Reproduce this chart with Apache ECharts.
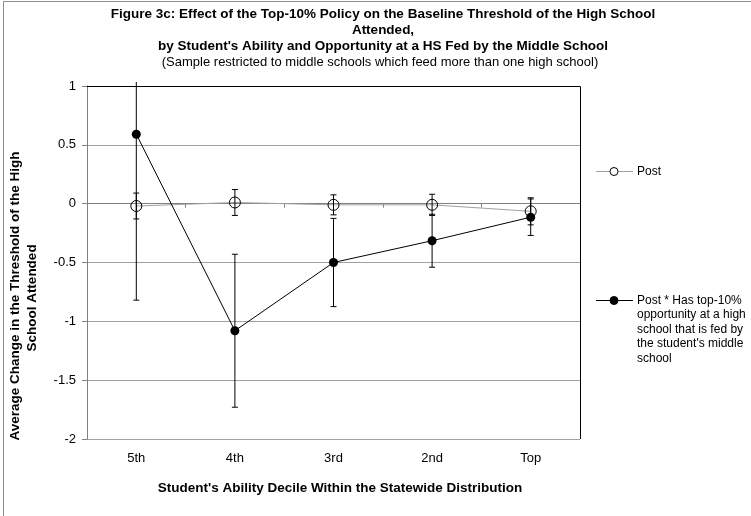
<!DOCTYPE html>
<html>
<head>
<meta charset="utf-8">
<script src="https://cdn.jsdelivr.net/npm/echarts@6/dist/echarts.min.js"></script>
<style>
  html, body { margin: 0; padding: 0; background: #fff; }
  #chart { width: 751px; height: 516px; }
</style>
</head>
<body>
<div id="chart"></div>
<script>
// Ability deciles on the x axis
const deciles = ['5th', '4th', '3rd', '2nd', 'Top'];

// "Post" coefficient and its error-bar half-width
const postValues = [-0.02, 0.01, -0.01, -0.01, -0.065];
const postError = [0.11, 0.11, 0.085, 0.09, 0.115];

// "Post * Has top-10% opportunity..." coefficient and its error-bar half-width
const oppValues = [0.59, -1.08, -0.50, -0.315, -0.115];
const oppError = [1.41, 0.65, 0.375, 0.225, 0.155];

// Value-axis ticks
const yMin = -2, yMax = 1, yStep = 0.5;

const FONT = '"Liberation Sans", Arial, sans-serif';
const chart = echarts.init(document.getElementById('chart'), null, { renderer: 'canvas' });

function errorData(values, errs) {
  return values.map((v, i) => [i, v - errs[i], v + errs[i]]);
}

// Vertical error bar with caps; the part beyond the axis range runs just past the plot edge
function errorBarRenderer(api) {
  const x = api.value(0);
  const lo = api.value(1), hi = api.value(2);
  const children = [];
  const capHalf = 3;
  const pLo = api.coord([x, Math.max(lo, yMin)]);
  const pHi = api.coord([x, Math.min(hi, yMax)]);
  const hiClipped = hi > yMax;
  const topY = hiClipped ? pHi[1] - 4 : pHi[1];
  const style = { stroke: '#000', lineWidth: 1 };
  children.push({ type: 'line', shape: { x1: pLo[0], y1: pLo[1], x2: pLo[0], y2: topY }, style });
  children.push({ type: 'line', shape: { x1: pLo[0] - capHalf, y1: pLo[1], x2: pLo[0] + capHalf, y2: pLo[1] }, style });
  if (!hiClipped) {
    children.push({ type: 'line', shape: { x1: pHi[0] - capHalf, y1: topY, x2: pHi[0] + capHalf, y2: topY }, style });
  }
  return { type: 'group', children };
}

const legendTextStyle = { font: '12px ' + FONT, fill: '#000' };
const titleFont = 'bold 13.5px ' + FONT;

const option = {
  animation: false,
  backgroundColor: '#fff',
  grid: { left: 87, right: 171, top: 86, bottom: 77, show: false },
  xAxis: {
    type: 'category',
    data: deciles,
    boundaryGap: true,
    axisLine: { show: true, lineStyle: { color: '#808080', width: 1 } },
    axisTick: { show: true, alignWithLabel: false, length: 4, lineStyle: { color: '#808080' } },
    axisLabel: { color: '#000', fontFamily: FONT, fontSize: 13, margin: 13 },
    splitLine: { show: false }
  },
  yAxis: {
    type: 'value',
    min: yMin, max: yMax, interval: yStep,
    axisLine: { show: true, lineStyle: { color: '#808080', width: 1 } },
    axisTick: { show: true, inside: false, length: 5, lineStyle: { color: '#808080' } },
    axisLabel: { color: '#000', fontFamily: FONT, fontSize: 13, margin: 11 },
    splitLine: { show: true, lineStyle: { color: '#a0a0a0', width: 1 } }
  },
  series: [
    {
      name: 'Post',
      type: 'line',
      data: postValues,
      z: 3,
      symbol: 'circle',
      symbolSize: 11,
      lineStyle: { color: '#a0a0a0', width: 1 },
      itemStyle: { color: 'rgba(255,255,255,0)', borderColor: '#000', borderWidth: 1 }
    },
    {
      name: 'Post err',
      type: 'custom',
      data: errorData(postValues, postError),
      renderItem: (p, api) => errorBarRenderer(api),
      clip: false,
      z: 4
    },
    {
      name: 'Post * Has top-10% opportunity at a high school that is fed by the student\'s middle school',
      type: 'line',
      data: oppValues,
      z: 6,
      symbol: 'circle',
      symbolSize: 9,
      lineStyle: { color: '#000', width: 1 },
      itemStyle: { color: '#000', borderColor: '#000', borderWidth: 0 }
    },
    {
      name: 'Opp err',
      type: 'custom',
      data: errorData(oppValues, oppError),
      renderItem: (p, api) => errorBarRenderer(api),
      clip: false,
      z: 5
    }
  ],
  graphic: [
    // outer chart border
    { type: 'rect', shape: { x: 3.5, y: 1.5, width: 800, height: 600 }, style: { fill: 'none', stroke: '#8c8c8c', lineWidth: 1 }, silent: true, z: 0 },
    // plot-area border top and right
    { type: 'polyline', shape: { points: [[87, 86.5], [580.5, 86.5], [580.5, 439]] }, style: { stroke: '#000', lineWidth: 1, fill: 'none' }, silent: true, z: 10 },
    // titles
    { type: 'text', x: 383, y: 14, style: { text: 'Figure 3c: Effect of the Top-10% Policy on the Baseline Threshold of the High School', font: titleFont, fill: '#000', align: 'center', verticalAlign: 'middle' } },
    { type: 'text', x: 383, y: 30, style: { text: 'Attended,', font: titleFont, fill: '#000', align: 'center', verticalAlign: 'middle' } },
    { type: 'text', x: 383, y: 46, style: { text: 'by Student\'s Ability and Opportunity at a HS Fed by the Middle School', font: titleFont, fill: '#000', align: 'center', verticalAlign: 'middle' } },
    { type: 'text', x: 380, y: 62, style: { text: '(Sample restricted to middle schools which feed more than one high school)', font: '13px ' + FONT, fill: '#000', align: 'center', verticalAlign: 'middle' } },
    // axis titles
    { type: 'text', x: 340, y: 488, style: { text: 'Student\'s Ability Decile Within the Statewide Distribution', font: titleFont, fill: '#000', align: 'center', verticalAlign: 'middle' } },
    { type: 'text', x: 15, y: 296, rotation: Math.PI / 2, style: { text: 'Average Change in the Threshold of the High', font: titleFont, fill: '#000', align: 'center', verticalAlign: 'middle' } },
    { type: 'text', x: 32, y: 298, rotation: Math.PI / 2, style: { text: 'School Attended', font: titleFont, fill: '#000', align: 'center', verticalAlign: 'middle' } },
    // legend: Post
    { type: 'line', shape: { x1: 596, y1: 171.5, x2: 633, y2: 171.5 }, style: { stroke: '#a0a0a0', lineWidth: 1 } },
    { type: 'circle', shape: { cx: 614, cy: 171.5, r: 4 }, style: { fill: '#fff', stroke: '#000', lineWidth: 1 } },
    { type: 'text', x: 637, y: 171.5, style: Object.assign({ text: 'Post', verticalAlign: 'middle' }, legendTextStyle) },
    // legend: Post * opportunity
    { type: 'line', shape: { x1: 596, y1: 300.5, x2: 633, y2: 300.5 }, style: { stroke: '#000', lineWidth: 1 } },
    { type: 'circle', shape: { cx: 614, cy: 300.5, r: 4 }, style: { fill: '#000', stroke: '#000', lineWidth: 1 } },
    { type: 'text', x: 637, y: 293, style: Object.assign({ text: 'Post * Has top-10%\nopportunity at a high\nschool that is fed by\nthe student\'s middle\nschool', verticalAlign: 'top', lineHeight: 14.5 }, legendTextStyle) }
  ]
};

chart.setOption(option);
</script>
</body>
</html>
